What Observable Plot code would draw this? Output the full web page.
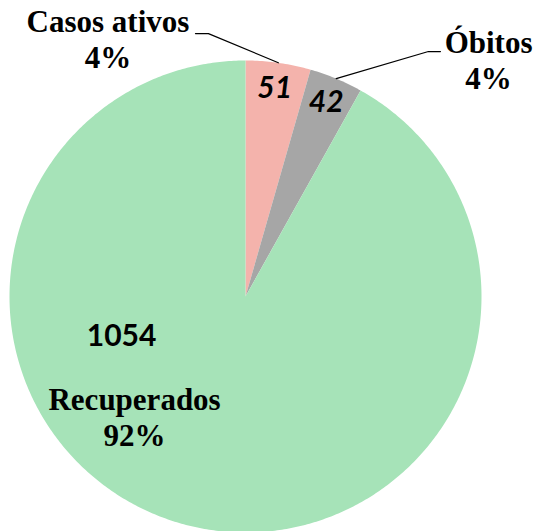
<!DOCTYPE html>
<html><head><meta charset="utf-8">
<script src="https://cdn.jsdelivr.net/npm/d3@7"></script>
<script src="https://cdn.jsdelivr.net/npm/@observablehq/plot@0.6"></script>
<style>body{margin:0;background:#fff}</style>
</head><body><div id="chart"></div>
<script>
// ---- data ----
const categories = ["Casos ativos", "Óbitos", "Recuperados"];
const values = [51, 42, 1054];
const colors = ["#F4B3AC", "#A6A6A6", "#A6E3B8"];

// ---- layout (label anchors, in pie-radius units) ----
const nameLabelPos = [[-0.583, 1.161], [1.030, 1.072], [-0.470, -0.441]];
const valueLabelPos = [null, null, [-0.525, -0.169]]; // null => along the slice's mid-angle
const leaderKnees = [[[-0.212, 1.114], [-0.157, 1.114]], [[0.826, 1.038], [0.775, 1.038]], null];

const total = d3.sum(values);
const arcs = d3.pie().sort(null).value(d => d)(values);
const slices = arcs.map((a, i) => ({
  category: categories[i], value: values[i],
  pct: Math.round(values[i] / total * 100) + "%",
  color: colors[i], startAngle: a.startAngle, endAngle: a.endAngle,
  mid: (a.startAngle + a.endAngle) / 2
}));

// slice outlines (geometry of each wedge, from the pie angles)
function wedge(s) {
  const n = Math.max(2, Math.ceil((s.endAngle - s.startAngle) / 0.01));
  const pts = [{x: 0, y: 0}];
  for (let k = 0; k <= n; k++) {
    const t = s.startAngle + (s.endAngle - s.startAngle) * k / n;
    pts.push({x: Math.sin(t), y: Math.cos(t)});
  }
  pts.push({x: 0, y: 0});
  return pts;
}

const leaders = [];
slices.forEach((s, i) => {
  if (!leaderKnees[i]) return;
  leaderKnees[i].forEach(([x, y]) => leaders.push({id: i, x, y}));
  leaders.push({id: i, x: Math.sin(s.mid), y: Math.cos(s.mid)});
});

const marks = slices.map(s => Plot.line(wedge(s), {x: "x", y: "y", fill: s.color, stroke: "none"}));
marks.push(Plot.line(leaders, {x: "x", y: "y", z: "id", stroke: "black", strokeWidth: 1.2}));
slices.forEach((s, i) => {
  const inside = !valueLabelPos[i];
  const vx = inside ? 0.89 * Math.sin(s.mid) : valueLabelPos[i][0];
  const vy = inside ? 0.89 * Math.cos(s.mid) : valueLabelPos[i][1];
  marks.push(Plot.text([String(s.value)], {x: vx, y: vy, text: d => d,
    fontFamily: "Lato", fontSize: 30, fontWeight: "bold", fontStyle: inside ? "italic" : "normal"}));
  marks.push(Plot.text([s.category], {x: nameLabelPos[i][0], y: nameLabelPos[i][1], text: d => d,
    fontFamily: "Liberation Serif", fontSize: 31, fontWeight: "bold"}));
  marks.push(Plot.text([s.pct], {x: nameLabelPos[i][0], y: nameLabelPos[i][1], dy: 36, text: d => d,
    fontFamily: "Liberation Serif", fontSize: 31, fontWeight: "bold"}));
});

const chart = Plot.plot({
  width: 538, height: 531, margin: 0,
  x: {domain: [-1, 1], range: [9, 481], axis: null},
  y: {domain: [-1, 1], range: [532, 60], axis: null},
  marks
});
document.getElementById("chart").appendChild(chart);
</script>
</body></html>
